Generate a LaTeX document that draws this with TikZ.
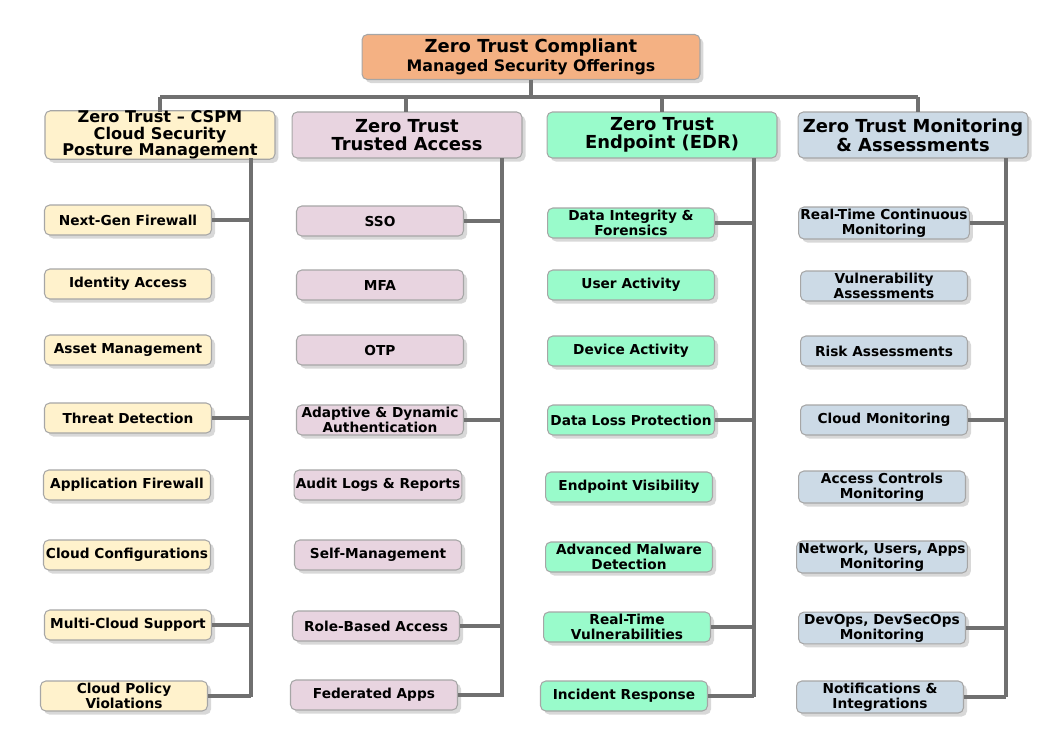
\documentclass[tikz,border=0pt]{standalone}
\usepackage{fontspec}
\setmainfont{DejaVu Sans}
\usetikzlibrary{shadows}
\definecolor{topfill}{HTML}{F4B183}
\definecolor{cspmfill}{HTML}{FFF2CC}
\definecolor{accfill}{HTML}{E8D4E0}
\definecolor{edrfill}{HTML}{99FBCB}
\definecolor{monfill}{HTML}{CCDAE6}
\definecolor{linegray}{HTML}{707070}
\tikzset{
  box/.style={draw=gray!70, line width=.6pt, rounded corners=3pt, align=center,
    font=\bfseries\fontsize{7.8}{8.6}\selectfont, inner sep=1pt,
    drop shadow={shadow xshift=2pt, shadow yshift=-2pt, fill=gray!60}},
  head/.style={box, minimum width=4.6cm, minimum height=0.92cm, font=\bfseries\fontsize{10.2}{10.6}\selectfont},
  item/.style={box, minimum width=3.34cm, minimum height=0.6cm},
  link/.style={draw=linegray, line width=2.4pt}
}
\begin{document}
\begin{tikzpicture}[x=0.02cm, y=-0.02cm]
  \useasboundingbox (0,0) rectangle (1050,752);
  % Top
  \node[head, fill=topfill, minimum width=6.76cm, minimum height=0.9cm] (Top) at (531,57)
    {Zero Trust Compliant\\{\fontsize{9}{9}\selectfont Managed Security Offerings}};
  % Headers
  \node[head, fill=cspmfill, inner sep=0pt, font=\bfseries\fontsize{9.2}{9.4}\selectfont] (Head-1) at (160,135)
    {Zero Trust -- CSPM\\Cloud Security\\Posture Management};
  \node[head, fill=accfill] (Head-2) at (407,135) {Zero Trust\\Trusted Access};
  \node[head, fill=edrfill] (Head-3) at (662,135) {Zero Trust\\Endpoint (EDR)};
  \node[head, fill=monfill] (Head-4) at (913,135) {Zero Trust Monitoring\\\& Assessments};
  % Top connectors
  \coordinate (Bus) at (531,97);
  \draw[link] (Top.south) -- (Bus);
  \draw[link] (Head-1.north |- Bus) -- (918,97);
  \foreach \i/\x in {1/160,2/406,3/662,4/918}
    \draw[link] (\x,97) -- (\x,112);
  % Column spines
  \foreach \i/\x in {1/251,2/502,3/754,4/1006} {
    \coordinate (Spine-\i) at (\x,158);
    \draw[link] (Spine-\i) -- (\x,697);
  }
  % Items
  \foreach \n/\x/\y/\t in {1/128/220/Next-Gen Firewall, 2/128/284/Identity Access, 3/128/350/Asset Management,
      4/128/418/Threat Detection, 5/127/485/Application Firewall, 6/127/555/Cloud Configurations,
      7/128/625/Multi-Cloud Support, 8/124/696/{Cloud Policy\\Violations}}
    \node[item, fill=cspmfill] (Item1-\n) at (\x,\y) {\t};
  \foreach \n/\x/\y/\t in {1/380/221/SSO, 2/380/285/MFA, 3/380/350/OTP,
      4/380/420/{Adaptive \& Dynamic\\Authentication}, 5/378/485/Audit Logs \& Reports,
      6/378/555/Self-Management, 7/376/626/Role-Based Access, 8/374/695/Federated Apps}
    \node[item, fill=accfill] (Item2-\n) at (\x,\y) {\t};
  \foreach \n/\x/\y/\t in {1/631/223/{Data Integrity \&\\Forensics}, 2/631/285/User Activity,
      3/631/351/Device Activity, 4/631/420/Data Loss Protection, 5/629/487/Endpoint Visibility,
      6/629/557/{Advanced Malware\\Detection}, 7/627/627/{Real-Time\\Vulnerabilities},
      8/624/696/Incident Response}
    \node[item, fill=edrfill] (Item3-\n) at (\x,\y) {\t};
  \foreach \n/\x/\y/\t in {1/884/223/{Real-Time Continuous\\Monitoring}, 2/884/286/{Vulnerability\\Assessments},
      3/884/351/Risk Assessments, 4/884/420/Cloud Monitoring, 5/882/487/{Access Controls\\Monitoring},
      6/882/557/{Network, Users, Apps\\Monitoring}, 7/882/628/{DevOps, DevSecOps\\Monitoring},
      8/880/697/{Notifications \&\\Integrations}}
    \node[item, fill=monfill] (Item4-\n) at (\x,\y) {\t};
  % Branches
  \foreach \c in {1,2,3,4}
    \foreach \n in {1,4,7,8}
      \draw[link] (Item\c-\n.east) -- (Item\c-\n.east -| Spine-\c);
\end{tikzpicture}
\end{document}
